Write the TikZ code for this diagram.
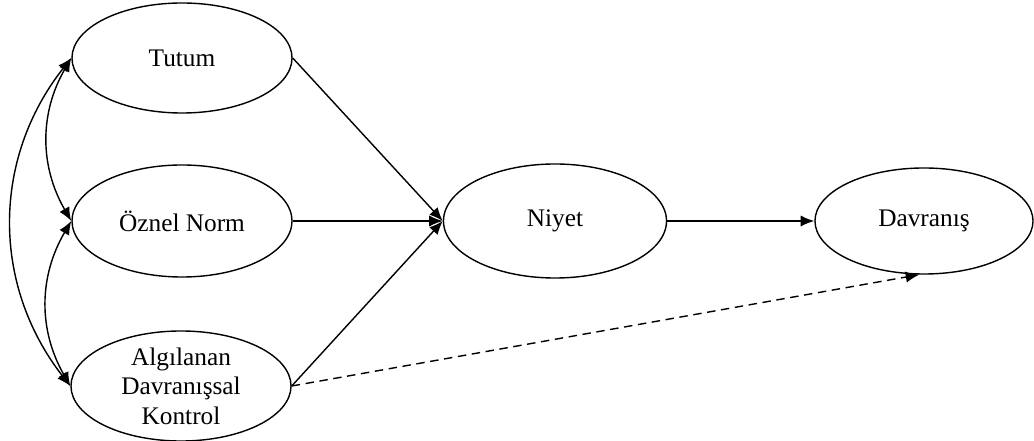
\documentclass[tikz,border=0pt]{standalone}
\usepackage{fontspec}
\setmainfont{Liberation Serif}
\usetikzlibrary{shapes.geometric,arrows.meta}
\tikzset{
  kavram/.style={ellipse,draw,line width=1pt,inner sep=0pt,align=center,
    minimum width=5.5cm,minimum height=2.75cm,font=\fontsize{18}{21}\selectfont},
  ok/.style={-{Latex[length=3.4mm,width=2.8mm]},line width=1pt},
  ciftok/.style={{Latex[length=3.4mm,width=2.8mm]}-{Latex[length=3.4mm,width=2.8mm]},line width=1pt}
}
\begin{document}
\begin{tikzpicture}[x=.025cm,y=.025cm]
\useasboundingbox (0,0) rectangle (1034,441);
\node[kavram] (tutum) at (182,383) {Tutum};
\node[kavram,minimum height=2.8cm] (norm) at (182,220) {Öznel Norm};
\node[kavram] (kontrol) at (181,55) {Algılanan\\Davranışsal\\Kontrol};
\node[kavram,minimum width=5.575cm,minimum height=2.85cm] (niyet) at (555,220) {Niyet};
\node[kavram,minimum width=5.45cm,minimum height=2.65cm] (davranis) at (924,220) {Davranış};
\draw[ok] (tutum.east) -- (niyet.west);
\draw[ok] (norm.east) -- (niyet.west);
\draw[ok] (kontrol.east) -- (niyet.west);
\draw[ok] (niyet.east) -- (davranis.west);
\draw[ok,dash pattern=on 6pt off 4pt] (kontrol.east) -- (davranis.-95);
\draw[ciftok] (tutum.west) to[bend right=30] (norm.west);
\draw[ciftok] (norm.west) to[bend right=30] (kontrol.west);
\draw[ciftok] (tutum.west) to[bend right=38] (kontrol.west);
\end{tikzpicture}
\end{document}
